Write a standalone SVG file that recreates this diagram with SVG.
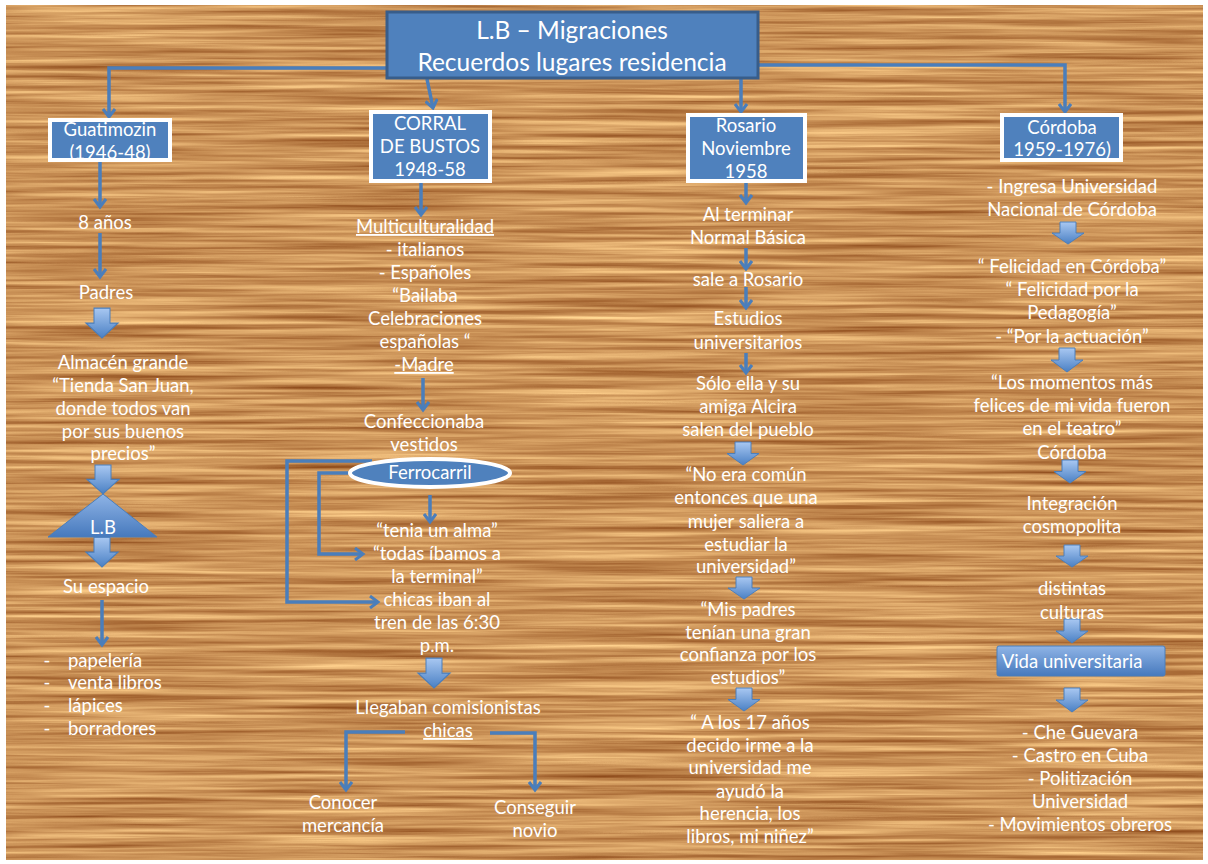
<svg xmlns="http://www.w3.org/2000/svg" xmlns:xlink="http://www.w3.org/1999/xlink" width="1208" height="864" viewBox="0 0 1208 864">
<defs>
<style>
.t{font-family:Lato,"Open Sans","Liberation Sans",sans-serif;font-size:18.5px;fill:#ffffff;text-anchor:middle}
.ts{text-anchor:start}
.u{text-decoration:underline}
.title{font-size:24.5px}
.bx{fill:#4f81bd}
.bxs{fill:none;stroke:#ffffff;stroke-width:4}
.ln{fill:none;stroke:#4a7ebb;stroke-width:3.5}
.ba{fill:url(#bg);stroke:#4a7ebb;stroke-width:1}
</style>
<linearGradient id="bg" x1="0" y1="0" x2="0" y2="1">
<stop offset="0" stop-color="#a9c8f2"/>
<stop offset="1" stop-color="#4a80c4"/>
</linearGradient>
<linearGradient id="tg" x1="0" y1="0" x2="0" y2="1">
<stop offset="0" stop-color="#8fb4e6"/>
<stop offset="1" stop-color="#4679bd"/>
</linearGradient>
<filter id="wood" x="0" y="0" width="100%" height="100%" color-interpolation-filters="sRGB">
<feTurbulence type="fractalNoise" baseFrequency="0.004 0.2" numOctaves="4" seed="7"/>
<feColorMatrix type="matrix" values="0.55 0 0 0 0.52  0.65 0 0 0 0.25  0.55 0 0 0 0.07  0 0 0 0 1"/>
</filter>
<marker id="ah" viewBox="0 0 14 14" markerWidth="14" markerHeight="14" refX="9" refY="7" orient="auto" markerUnits="userSpaceOnUse">
<path d="M1,1 L9,7 L1,13" fill="none" stroke="#4a7ebb" stroke-width="3" stroke-linejoin="miter"/>
</marker>
<path id="ba" class="ba" d="M-8,0 H8 V12 H16 L0,24 L-16,12 H-8 Z"/>
</defs>

<rect x="0" y="0" width="1208" height="864" fill="#ffffff"/>
<rect x="6" y="5" width="1197" height="855" fill="#cf965c" filter="url(#wood)"/>

<g id="connectors">
<path class="ln" marker-end="url(#ah)" d="M386,68 H109 V117"/>
<path class="ln" marker-end="url(#ah)" d="M427,79 L433,108"/>
<path class="ln" marker-end="url(#ah)" d="M741,79 V112"/>
<path class="ln" marker-end="url(#ah)" d="M759,65 H1065 V112"/>
<path class="ln" marker-end="url(#ah)" d="M100,162 V207"/>
<path class="ln" marker-end="url(#ah)" d="M100,233 V277"/>
<path class="ln" marker-end="url(#ah)" d="M102,600 V645"/>
<path class="ln" marker-end="url(#ah)" d="M421,183 V215"/>
<path class="ln" marker-end="url(#ah)" d="M423,378 V410"/>
<path class="ln" marker-end="url(#ah)" d="M430,495 V522"/>
<path class="ln" marker-end="url(#ah)" d="M372,461 H287 V602 H378"/>
<path class="ln" marker-end="url(#ah)" d="M348,473 H319 V554 H363"/>
<path class="ln" marker-end="url(#ah)" d="M405,732 H346 V790"/>
<path class="ln" marker-end="url(#ah)" d="M490,733 H535 V790"/>
<path class="ln" marker-end="url(#ah)" d="M746,183 V203"/>
<path class="ln" marker-end="url(#ah)" d="M746,248 V269"/>
<path class="ln" marker-end="url(#ah)" d="M746,287 V308"/>
<path class="ln" marker-end="url(#ah)" d="M746,353 V373"/>
<use xlink:href="#ba" href="#ba" transform="translate(102,308) scale(1,1.25)"/>
<use xlink:href="#ba" href="#ba" transform="translate(103,465) scale(1,1.2)"/>
<use xlink:href="#ba" href="#ba" transform="translate(102,537) scale(1,1.25)"/>
<use xlink:href="#ba" href="#ba" transform="translate(434,658) scale(1,1.25)"/>
<use xlink:href="#ba" href="#ba" transform="translate(743,442) scale(1,0.96)"/>
<use xlink:href="#ba" href="#ba" transform="translate(744,577) scale(1,0.92)"/>
<use xlink:href="#ba" href="#ba" transform="translate(744,688) scale(1,0.96)"/>
<use xlink:href="#ba" href="#ba" transform="translate(1068,222) scale(1,0.92)"/>
<use xlink:href="#ba" href="#ba" transform="translate(1067,348) scale(1,1)"/>
<use xlink:href="#ba" href="#ba" transform="translate(1070,460) scale(1,0.96)"/>
<use xlink:href="#ba" href="#ba" transform="translate(1072,545) scale(1,0.92)"/>
<use xlink:href="#ba" href="#ba" transform="translate(1072,619) scale(1,1)"/>
<use xlink:href="#ba" href="#ba" transform="translate(1072,688) scale(1,1)"/>
</g>

<g id="title">
<rect x="387" y="12" width="371" height="66" fill="#4f81bd" stroke="#385d8a" stroke-width="3"/>
<text class="t title" x="572" y="39">L.B – Migraciones</text>
<text class="t title" x="572" y="71">Recuerdos lugares residencia</text>
</g>

<g id="guatimozin">
<rect class="bx" x="50" y="120" width="120" height="40"/>
<text class="t" x="110" y="136">Guatimozin</text>
<text class="t" x="110" y="159">(1946-48)</text>
<rect class="bxs" x="50" y="120" width="120" height="40"/>
</g>
<g id="n-8anos"><text class="t" x="105" y="229">8 años</text></g>
<g id="n-padres"><text class="t" x="106" y="299">Padres</text></g>
<g id="n-almacen">
<text class="t" x="123" y="369">Almacén grande</text>
<text class="t" x="123" y="392">“Tienda San Juan,</text>
<text class="t" x="123" y="415">donde todos van</text>
<text class="t" x="123" y="438">por sus buenos</text>
<text class="t" x="123" y="460">precios”</text>
</g>
<g id="n-lb">
<polygon points="103,494 157,537 48,537" fill="url(#tg)" stroke="#4a7ebb" stroke-width="1"/>
<text class="t" x="103" y="534">L.B</text>
</g>
<g id="n-suespacio"><text class="t" x="106" y="593">Su espacio</text></g>
<g id="n-lista">
<text class="t" x="47" y="667">-</text><text class="t ts" x="68" y="667">papelería</text>
<text class="t" x="47" y="689">-</text><text class="t ts" x="68" y="689">venta libros</text>
<text class="t" x="47" y="712">-</text><text class="t ts" x="68" y="712">lápices</text>
<text class="t" x="47" y="735">-</text><text class="t ts" x="68" y="735">borradores</text>
</g>

<g id="corral">
<rect class="bx" x="371" y="112" width="119" height="69"/>
<text class="t" x="430" y="130">CORRAL</text>
<text class="t" x="430" y="153">DE BUSTOS</text>
<text class="t" x="430" y="176">1948-58</text>
<rect class="bxs" x="371" y="112" width="119" height="69"/>
</g>
<g id="n-multi">
<text class="t u" x="425" y="233">Multiculturalidad</text>
<text class="t" x="425" y="256">- italianos</text>
<text class="t" x="425" y="279">- Españoles</text>
<text class="t" x="425" y="302">“Bailaba</text>
<text class="t" x="425" y="325">Celebraciones</text>
<text class="t" x="425" y="348">españolas “</text>
<text class="t u" x="424" y="371">-Madre</text>
</g>
<g id="n-confecc">
<text class="t" x="424" y="428">Confeccionaba</text>
<text class="t" x="424" y="451">vestidos</text>
</g>
<g id="n-ferro">
<ellipse cx="430" cy="473" rx="80" ry="14" fill="#4f81bd" stroke="#ffffff" stroke-width="4"/>
<text class="t" x="430" y="479">Ferrocarril</text>
</g>
<g id="n-tren">
<text class="t" x="437" y="537">“tenia un alma”</text>
<text class="t" x="437" y="560">“todas íbamos a</text>
<text class="t" x="437" y="583">la terminal”</text>
<text class="t" x="437" y="606">chicas iban al</text>
<text class="t" x="437" y="629">tren de las 6:30</text>
<text class="t" x="437" y="652">p.m.</text>
</g>
<g id="n-llegaban">
<text class="t" x="448" y="714">Llegaban comisionistas</text>
<text class="t u" x="448" y="737">chicas</text>
</g>
<g id="n-conocer">
<text class="t" x="343" y="809">Conocer</text>
<text class="t" x="343" y="832">mercancía</text>
</g>
<g id="n-novio">
<text class="t" x="535" y="814">Conseguir</text>
<text class="t" x="535" y="837">novio</text>
</g>

<g id="rosario">
<rect class="bx" x="688" y="115" width="117" height="66"/>
<text class="t" x="746" y="132">Rosario</text>
<text class="t" x="746" y="155">Noviembre</text>
<text class="t" x="746" y="178">1958</text>
<rect class="bxs" x="688" y="115" width="117" height="66"/>
</g>
<g id="n-alterminar">
<text class="t" x="748" y="221">Al terminar</text>
<text class="t" x="748" y="244">Normal Básica</text>
</g>
<g id="n-sale"><text class="t" x="748" y="286">sale a Rosario</text></g>
<g id="n-estudios">
<text class="t" x="748" y="325">Estudios</text>
<text class="t" x="748" y="349">universitarios</text>
</g>
<g id="n-solo">
<text class="t" x="748" y="390">Sólo ella y su</text>
<text class="t" x="748" y="413">amiga Alcira</text>
<text class="t" x="748" y="436">salen del pueblo</text>
</g>
<g id="n-noera">
<text class="t" x="746" y="481">“No era común</text>
<text class="t" x="746" y="504">entonces que una</text>
<text class="t" x="746" y="528">mujer saliera a</text>
<text class="t" x="746" y="551">estudiar la</text>
<text class="t" x="746" y="573">universidad”</text>
</g>
<g id="n-mispadres">
<text class="t" x="748" y="616">“Mis padres</text>
<text class="t" x="748" y="639">tenían una gran</text>
<text class="t" x="748" y="661">confianza por los</text>
<text class="t" x="748" y="684">estudios”</text>
</g>
<g id="n-17">
<text class="t" x="750" y="729">“ A los 17 años</text>
<text class="t" x="750" y="752">decido irme a la</text>
<text class="t" x="750" y="774">universidad me</text>
<text class="t" x="750" y="798">ayudó la</text>
<text class="t" x="750" y="820">herencia, los</text>
<text class="t" x="750" y="843">libros, mi niñez”</text>
</g>

<g id="cordoba">
<rect class="bx" x="1002" y="115" width="119" height="45"/>
<text class="t" x="1062" y="134">Córdoba</text>
<text class="t" x="1062" y="156">1959-1976)</text>
<rect class="bxs" x="1002" y="115" width="119" height="45"/>
</g>
<g id="n-ingresa">
<text class="t" x="1072" y="193">- Ingresa Universidad</text>
<text class="t" x="1072" y="216">Nacional de Córdoba</text>
</g>
<g id="n-felicidad">
<text class="t" x="1072" y="273">“ Felicidad en Córdoba”</text>
<text class="t" x="1072" y="296">“ Felicidad por la</text>
<text class="t" x="1072" y="319">Pedagogía”</text>
<text class="t" x="1072" y="343">- “Por la actuación”</text>
</g>
<g id="n-momentos">
<text class="t" x="1072" y="389">“Los momentos más</text>
<text class="t" x="1072" y="412">felices de mi vida fueron</text>
<text class="t" x="1072" y="435">en el teatro”</text>
<text class="t" x="1072" y="459">Córdoba</text>
</g>
<g id="n-integracion">
<text class="t" x="1072" y="510">Integración</text>
<text class="t" x="1072" y="533">cosmopolita</text>
</g>
<g id="n-distintas">
<text class="t" x="1072" y="595">distintas</text>
<text class="t" x="1072" y="619">culturas</text>
</g>
<g id="n-vida">
<rect x="997" y="646" width="168" height="30" rx="2" fill="url(#tg)" stroke="#4a7ebb" stroke-width="1"/>
<text class="t" x="1072" y="668">Vida universitaria</text>
</g>
<g id="n-che">
<text class="t" x="1080" y="739">- Che Guevara</text>
<text class="t" x="1080" y="762">- Castro en Cuba</text>
<text class="t" x="1080" y="785">- Politización</text>
<text class="t" x="1080" y="808">Universidad</text>
<text class="t" x="1080" y="831">- Movimientos obreros</text>
</g>
</svg>
